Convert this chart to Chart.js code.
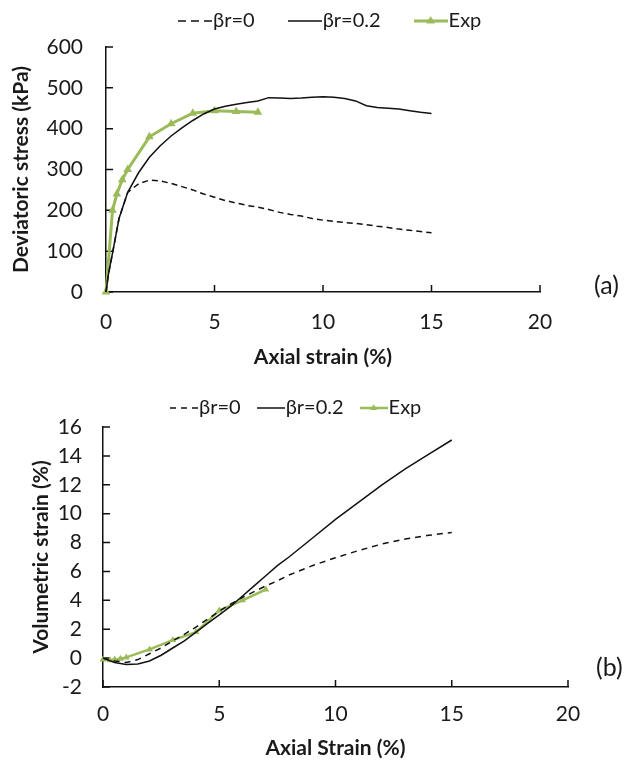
<!DOCTYPE html>
<html>
<head>
<meta charset="utf-8">
<script src="https://cdn.jsdelivr.net/npm/chart.js@4.4.1/dist/chart.umd.min.js"></script>
<style>
  body { margin: 0; background: #fff; width: 626px; height: 760px; overflow: hidden; position: relative; font-family: Lato, sans-serif; }
  canvas { position: absolute; left: 0; }
  #chartA { top: 0; }
  #chartB { top: 380px; }
  .tag { position: absolute; font-size: 25px; line-height: 1; color: #1a1a1a; }
</style>
</head>
<body>
<canvas id="chartA" width="626" height="380"></canvas>
<canvas id="chartB" width="626" height="390"></canvas>
<div class="tag" style="left:594px; top:272px">(a)</div>
<div class="tag" style="left:596px; top:654px">(b)</div>
<script>
// (a) deviatoric stress vs axial strain
const strainA = [0, 0.1, 0.3, 0.6, 1, 1.5, 2, 2.5, 3, 3.5, 4, 4.5, 5, 5.5, 6, 6.5, 7, 7.5, 8, 8.5, 9, 9.5, 10, 10.5, 11, 11.5, 12, 12.5, 13, 13.5, 14, 14.5, 15];
const stressBr0 = [0, 40, 95, 180, 244, 265, 274, 272, 266, 258, 250, 240, 232, 224, 218, 212, 208, 202, 195, 190, 186, 180, 176, 173, 170, 168, 165, 161, 158, 154, 151, 148, 145];
const stressBr02 = [0, 40, 95, 180, 244, 292, 330, 358, 382, 402, 420, 436, 448, 455, 460, 464, 468, 476, 475, 474, 475, 477, 478, 477, 474, 468, 456, 452, 450, 448, 444, 440, 437];
const expStrain = [0, 0.3, 0.5, 0.75, 1, 2, 3, 4, 5, 6, 7];
const expStress = [0, 200, 240, 275, 300, 380, 412, 438, 444, 442, 440];

// (b) volumetric strain vs axial strain
const strainB = [0, 0.5, 1, 1.5, 2, 2.5, 3, 3.5, 4, 4.5, 5, 5.5, 6, 6.5, 7, 7.5, 8, 9, 10, 11, 12, 13, 14, 15];
const volBr0 = [0, -0.2, -0.3, -0.1, 0.3, 0.7, 1.2, 1.65, 2.15, 2.7, 3.25, 3.75, 4.2, 4.6, 5.0, 5.35, 5.75, 6.4, 6.95, 7.45, 7.9, 8.25, 8.5, 8.7];
const volBr02 = [0, -0.3, -0.45, -0.4, -0.2, 0.2, 0.7, 1.2, 1.8, 2.4, 3.0, 3.6, 4.3, 5.0, 5.7, 6.4, 7.0, 8.3, 9.6, 10.8, 12.0, 13.1, 14.1, 15.1];
const expVol = [-0.1, -0.15, -0.1, -0.05, 0.05, 0.6, 1.25, 1.8, 3.3, 4.0, 4.75];

const seriesNames = ["βr=0", "βr=0.2", "Exp"];
const GREEN = "#9bbb59";
const INK = "#1a1a1a";
const FONT = "Lato, sans-serif";

const pts = (xs, ys) => xs.map((x, i) => ({ x, y: ys[i] }));

function makeIcon(len, color, width, dash, marker) {
  const c = document.createElement("canvas");
  c.width = len; c.height = 14;
  const g = c.getContext("2d");
  g.strokeStyle = color; g.lineWidth = width; g.setLineDash(dash);
  g.beginPath(); g.moveTo(0, 7); g.lineTo(len, 7); g.stroke();
  if (marker) {
    const cx = len / 2, r = marker;
    g.fillStyle = color;
    g.beginPath();
    g.moveTo(cx, 7 - r);
    g.lineTo(cx + r * 0.866, 7 + r / 2);
    g.lineTo(cx - r * 0.866, 7 + r / 2);
    g.closePath(); g.fill();
  }
  return c;
}

// inward tick marks, Excel style
const innerTicks = {
  id: "innerTicks",
  beforeDatasetsDraw(chart, args, opts) {
    const { ctx, chartArea } = chart;
    const len = opts.length || 7;
    const sx = chart.scales.x, sy = chart.scales.y;
    ctx.save();
    ctx.strokeStyle = "#111"; ctx.lineWidth = 1.5;
    ctx.beginPath();
    sx.ticks.forEach(t => { const p = sx.getPixelForValue(t.value); ctx.moveTo(p, chartArea.bottom); ctx.lineTo(p, chartArea.bottom - len); });
    sy.ticks.forEach(t => { const p = sy.getPixelForValue(t.value); ctx.moveTo(chartArea.left, p); ctx.lineTo(chartArea.left + len, p); });
    ctx.stroke();
    ctx.restore();
  }
};

// legend placement: fixed box height, then move it where the original has it
const legendPlace = {
  id: "legendPlace",
  afterInit(chart, args, opts) {
    const lg = chart.legend;
    const fit = lg.fit;
    lg.fit = function () { fit.call(this); this.height = opts.height; };
  },
  afterLayout(chart, args, opts) {
    const lg = chart.legend;
    const pad = lg.options.labels.padding;
    const fs = lg.options.labels.font.size;
    lg.left = opts.x - pad;
    lg.right = chart.width + 300;
    lg.top = opts.y - pad - fs / 2;
  }
};

function makeChart(id, cfg) {
  const icons = [
    makeIcon(cfg.iconLen, "#111", 1.5, cfg.iconDash, 0),
    makeIcon(cfg.iconLen, "#111", 1.5, [], 0),
    makeIcon(cfg.iconLen, GREEN, cfg.expWidth, [], cfg.iconMarker)
  ];
  return new Chart(document.getElementById(id), {
    type: "line",
    data: {
      datasets: [
        { label: seriesNames[0], data: pts(cfg.xs, cfg.y0), borderColor: "#111", borderWidth: 1.5, borderDash: cfg.dash, pointRadius: 0, tension: 0, clip: false },
        { label: seriesNames[1], data: pts(cfg.xs, cfg.y02), borderColor: "#111", borderWidth: 1.5, pointRadius: 0, tension: 0, clip: false },
        { label: seriesNames[2], data: pts(expStrain, cfg.exp), borderColor: GREEN, backgroundColor: GREEN, borderWidth: cfg.expWidth,
          pointStyle: "triangle", pointRadius: cfg.marker, pointBorderWidth: 0, tension: 0, clip: false }
      ]
    },
    options: {
      responsive: false,
      animation: false,
      devicePixelRatio: 1,
      layout: { padding: { right: cfg.padRight } },
      scales: {
        x: {
          type: "linear", min: 0, max: 20,
          ticks: { stepSize: 5, padding: cfg.xTickPad, color: INK, font: { family: FONT, size: 21 } },
          grid: { display: false, drawTicks: false },
          border: { display: true, color: "#111", width: 1.5 },
          title: { display: true, text: cfg.xTitle, color: INK, font: { family: FONT, size: 21, weight: "bold" }, padding: { top: 0, bottom: cfg.xTitlePad } },
          afterFit: s => { s.height = cfg.xHeight; }
        },
        y: {
          type: "linear", min: cfg.yMin, max: cfg.yMax,
          ticks: { stepSize: cfg.yStep, padding: cfg.yTickPad, color: INK, font: { family: FONT, size: 21 } },
          grid: { display: false, drawTicks: false },
          border: { display: true, color: "#111", width: 1.5 },
          title: { display: true, text: cfg.yTitle, color: INK, font: { family: FONT, size: 21, weight: "bold" }, padding: { top: cfg.yTitlePad, bottom: 0 } },
          afterFit: s => { s.width = cfg.yWidth; }
        }
      },
      plugins: {
        tooltip: { enabled: false },
        legend: {
          position: "top", align: "start",
          labels: {
            usePointStyle: true, pointStyleWidth: cfg.iconLen - 18, padding: cfg.legendPad,
            color: INK, font: { family: FONT, size: 20 },
            generateLabels: chart => Chart.defaults.plugins.legend.labels.generateLabels(chart).map((it, i) => Object.assign(it, { pointStyle: icons[i] }))
          }
        },
        legendPlace: { x: cfg.legendX, y: cfg.legendY, height: 47 },
        innerTicks: { length: 7 }
      }
    },
    plugins: [innerTicks, legendPlace]
  });
}

makeChart("chartA", {
  xs: strainA, y0: stressBr0, y02: stressBr02, exp: expStress,
  dash: [6, 4], expWidth: 3, marker: 5, iconLen: 34, iconMarker: 5, iconDash: [8, 5],
  padRight: 86, xHeight: 88, yWidth: 106, xTickPad: 18, yTickPad: 23, xTitlePad: 10, yTitlePad: 9,
  yMin: 0, yMax: 600, yStep: 100,
  xTitle: "Axial strain (%)", yTitle: "Deviatoric stress (kPa)",
  legendX: 187, legendY: 21, legendPad: 42
});

makeChart("chartB", {
  xs: strainB, y0: volBr0, y02: volBr02, exp: expVol,
  dash: [6, 5], expWidth: 2.5, marker: 4, iconLen: 28, iconMarker: 4, iconDash: [6, 5],
  padRight: 58, xHeight: 83, yWidth: 103, xTickPad: 15, yTickPad: 21, xTitlePad: 9, yTitlePad: 29,
  yMin: -2, yMax: 16, yStep: 2,
  xTitle: "Axial Strain (%)", yTitle: "Volumetric strain (%)",
  legendX: 179, legendY: 28, legendPad: 25
});
</script>
</body>
</html>
